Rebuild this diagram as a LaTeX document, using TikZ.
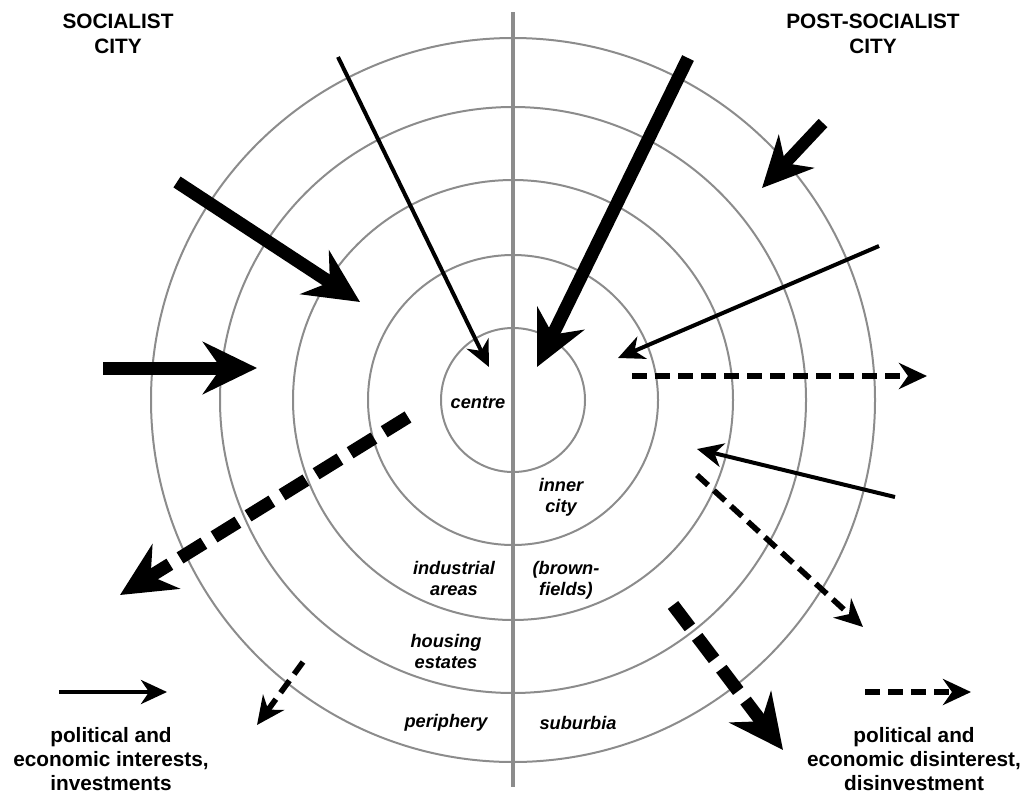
\documentclass[tikz,border=0pt]{standalone}
\usepackage{fontspec}
\setmainfont{Liberation Sans}
\usetikzlibrary{arrows.meta}
\definecolor{ringgray}{gray}{0.55}

\begin{document}
\begin{tikzpicture}[x=0.5pt, y=-0.5pt,
  ring/.style={draw=ringgray, line width=1pt},
  divider/.style={draw=ringgray, line width=2.2pt},
  title/.style={font=\fontsize{10.4}{12.5}\selectfont\bfseries, align=center},
  zone/.style={font=\fontsize{9.1}{10.5}\selectfont\bfseries\itshape, align=center},
  legend/.style={font=\fontsize{10.4}{12}\selectfont\bfseries, align=center},
  gain/.style={line width=2pt, -{Stealth[length=13pt, width=12pt, inset=4pt]}},
  gainmid/.style={line width=6pt, -{Stealth[length=25pt, width=24pt, inset=8pt]}},
  gainbig/.style={line width=6.5pt, -{Stealth[length=27pt, width=26pt, inset=9pt]}},
  loss/.style={line width=2.8pt, dash pattern=on 7.5pt off 4pt, -{Stealth[length=14pt, width=13pt, inset=4.5pt]}},
  lossbig/.style={line width=6.5pt, dash pattern=on 14pt off 6pt, -{Stealth[length=27pt, width=26pt, inset=9pt]}}]
  \useasboundingbox (0,0) rectangle (1027,793);
  \coordinate (ctr) at (513,400);
  % rings and the dividing line
  \foreach \r in {72,145,220,293,362}
    \draw[ring] (ctr) circle[radius=\r];
  \coordinate (divtop) at (513,12);
  \coordinate (divbot) at (513,787);
  \draw[divider] (divtop) -- (divbot);
  % headings
  \node[title] (soc) at (118,34) {SOCIALIST\\CITY};
  \node[title] (postsoc) at (873,34) {POST-SOCIALIST\\CITY};
  % zones
  \node[zone] (centre) at (478,403) {centre};
  \node[zone] (industry) at (454,578) {industrial\\areas};
  \node[zone] (housing) at (446,651) {housing\\estates};
  \node[zone] (periphery) at (446,723) {periphery};
  \node[zone] (inner) at (561,497) {inner\\city};
  \node[zone] (brown) at (566,580) {(brown-\\fields)};
  \node[zone] (suburbia) at (578,723) {suburbia};
  % socialist city: flows
  \coordinate (s1a) at (338,57);   \coordinate (s1b) at (489,367);
  \coordinate (s2a) at (177,182);  \coordinate (s2b) at (360,302);
  \coordinate (s3a) at (103,368);  \coordinate (s3b) at (257,368);
  \coordinate (s4a) at (408,417);  \coordinate (s4b) at (120,595);
  \coordinate (s5a) at (303,662);  \coordinate (s5b) at (257,725);
  \draw[gain] (s1a) -- (s1b);
  \draw[gainbig] (s2a) -- (s2b);
  \draw[gainbig] (s3a) -- (s3b);
  \draw[lossbig] (s4a) -- (s4b);
  \draw[loss] (s5a) -- (s5b);
  % post-socialist city: flows
  \coordinate (p1a) at (688,58);   \coordinate (p1b) at (537,367);
  \coordinate (p2a) at (823,123);  \coordinate (p2b) at (762,188);
  \coordinate (p3a) at (879,246);  \coordinate (p3b) at (618,358);
  \coordinate (p4a) at (632,376);  \coordinate (p4b) at (927,376);
  \coordinate (p5a) at (895,497);  \coordinate (p5b) at (697,449);
  \coordinate (p6a) at (697,475);  \coordinate (p6b) at (863,627);
  \coordinate (p7a) at (673,605);  \coordinate (p7b) at (783,750);
  \draw[gainbig] (p1a) -- (p1b);
  \draw[gainmid] (p2a) -- (p2b);
  \draw[gain] (p3a) -- (p3b);
  \draw[loss] (p4a) -- (p4b);
  \draw[gain] (p5a) -- (p5b);
  \draw[loss] (p6a) -- (p6b);
  \draw[lossbig] (p7a) -- (p7b);
  % legend
  \coordinate (kgaina) at (59,692);  \coordinate (kgainb) at (167,692);
  \coordinate (klossa) at (865,692); \coordinate (klossb) at (971,692);
  \draw[gain] (kgaina) -- (kgainb);
  \draw[loss] (klossa) -- (klossb);
  \node[legend] (kgaintext) at (111,759) {political and\\economic interests,\\investments};
  \node[legend] (klosstext) at (914,759) {political and\\economic disinterest,\\disinvestment};
\end{tikzpicture}
\end{document}
